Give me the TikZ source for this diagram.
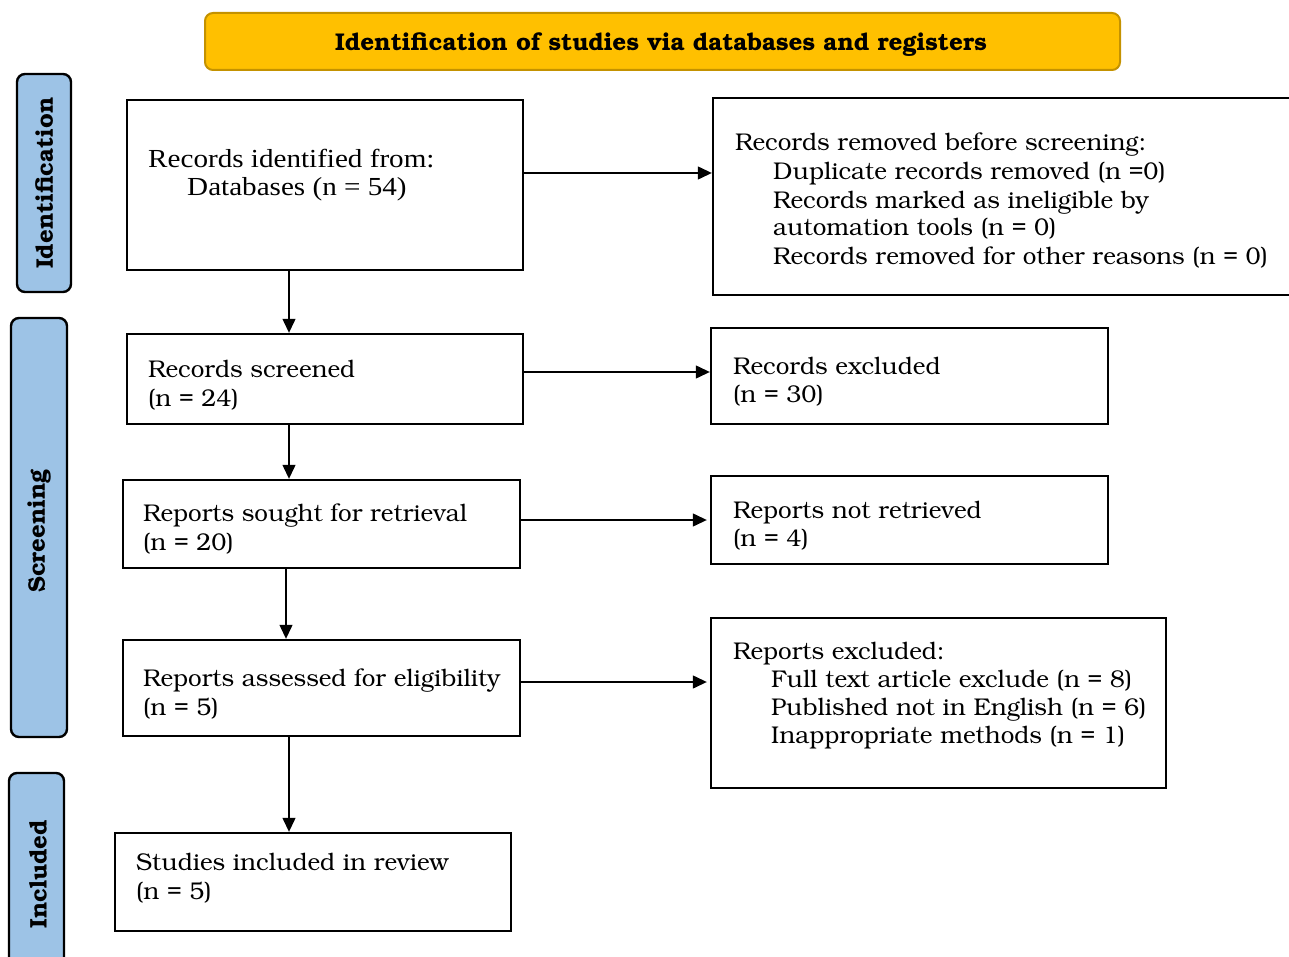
\documentclass[tikz,border=0pt]{standalone}
\usepackage{fontspec}
\newfontfamily\timesf{Liberation Serif}
\usepackage[T1]{fontenc}
\usepackage{bookman}
\usetikzlibrary{fit,arrows.meta}
\definecolor{hdrfill}{HTML}{FFC000}
\definecolor{hdrline}{HTML}{C49200}
\definecolor{tabfill}{HTML}{9DC3E6}
\tikzset{
  box/.style={draw=black, line width=2.4pt, fill=white, inner sep=0pt},
  tabbox/.style={draw=black, line width=2.4pt, fill=tabfill, rounded corners=8pt, inner sep=0pt},
  hdr/.style={draw=hdrline, line width=2pt, fill=hdrfill, rounded corners=8pt, inner sep=0pt},
  txt/.style={anchor=base west, inner sep=0pt, font=\fontsize{24.2}{28}\selectfont},
  ttxt/.style={anchor=base west, inner sep=0pt, xscale=1.12, font=\timesf\fontsize{26}{28}\selectfont},
  tabtxt/.style={rotate=90, inner sep=0pt, font=\fontsize{24}{28}\selectfont\bfseries},
  arr/.style={line width=1.3pt, -{Triangle[length=14pt,width=13pt]}},
}
\begin{document}
\begin{tikzpicture}[x=1pt,y=-1pt]
\useasboundingbox (0,0) rectangle (1289,957);
\clip (0,0) rectangle (1289,957);
% header
\node[hdr, fit={(205,13)(1120,70)}] (hdr) {};
\node[inner sep=0pt, font=\fontsize{24.2}{28}\selectfont\bfseries] (hdrt) at (661,44) {Identification of studies via databases and registers};
% side tabs
\node[tabbox, fit={(17,74)(71,292)}] (tabid) {};
\node[tabtxt] (tabidt) at (tabid.center) {Identification};
\node[tabbox, fit={(11,318)(67,737)}] (tabsc) {};
\node[tabtxt] (tabsct) at (39,531) {Screening};
\node[tabbox, fit={(9,773)(64,980)}] (tabin) {};
\node[tabtxt] (tabint) at (38,874) {Included};
% boxes
\node[box, fit={(127,100)(523,270)}] (ident) {};
\node[box, fit={(713,98)(1300,295)}] (removed) {};
\node[box, fit={(127,334)(523,424)}] (screened) {};
\node[box, fit={(711,328)(1108,424)}] (excl) {};
\node[box, fit={(123,480)(520,568)}] (sought) {};
\node[box, fit={(711,476)(1108,564)}] (notret) {};
\node[box, fit={(123,640)(520,736)}] (assessed) {};
\node[box, fit={(711,618)(1166,788)}] (repexcl) {};
\node[box, fit={(115,833)(511,931)}] (incl) {};
% texts
\node[ttxt] (t1a) at (148,168) {Records identified from:};
\node[ttxt] (t1b) at (187,196) {Databases (n = 54)};
\node[txt] (t2a) at (735,151) {Records removed before screening:};
\node[txt] (t2b) at (773,180) {Duplicate records removed (n =0)};
\node[txt] (t2c) at (773,209) {Records marked as ineligible by};
\node[txt] (t2d) at (773,236) {automation tools (n = 0)};
\node[txt] (t2e) at (773,265) {Records removed for other reasons (n = 0)};
\node[txt] (t3a) at (148,377) {Records screened};
\node[txt] (t3b) at (148,406) {(n = 24)};
\node[txt] (t4a) at (733,374) {Records excluded};
\node[txt] (t4b) at (733,402) {(n = 30)};
\node[txt] (t5a) at (143,521) {Reports sought for retrieval};
\node[txt] (t5b) at (143,550) {(n = 20)};
\node[txt] (t6a) at (733,518) {Reports not retrieved};
\node[txt] (t6b) at (733,546) {(n = 4)};
\node[txt] (t7a) at (143,686) {Reports assessed for eligibility};
\node[txt] (t7b) at (143,715) {(n = 5)};
\node[txt] (t8a) at (733,659) {Reports excluded:};
\node[txt] (t8b) at (771,687) {Full text article exclude (n = 8)};
\node[txt] (t8c) at (771,715) {Published not in English (n = 6)};
\node[txt] (t8d) at (771,743) {Inappropriate methods (n = 1)};
\node[txt] (t9a) at (136,870) {Studies included in review};
\node[txt] (t9b) at (136,899) {(n = 5)};
% connectors
\draw[arr] ([yshift=12pt]ident.east) -- ([yshift=12pt]ident.east -| removed.west);
\draw[arr] ([xshift=-36pt]ident.south) -- ([xshift=-36pt]ident.south |- screened.north);
\draw[arr] ([yshift=7pt]screened.east) -- ([yshift=7pt]screened.east -| excl.west);
\draw[arr] ([xshift=-36pt]screened.south) -- ([xshift=-36pt]screened.south |- sought.north);
\draw[arr] ([yshift=4pt]sought.east) -- ([yshift=4pt,xshift=-3pt]sought.east -| notret.west);
\draw[arr] ([xshift=-35.5pt]sought.south) -- ([xshift=-35.5pt]sought.south |- assessed.north);
\draw[arr] ([yshift=6pt]assessed.east) -- ([yshift=6pt,xshift=-3pt]assessed.east -| repexcl.west);
\draw[arr] ([xshift=-32.5pt]assessed.south) -- ([xshift=-32.5pt]assessed.south |- incl.north);
\end{tikzpicture}
\end{document}
